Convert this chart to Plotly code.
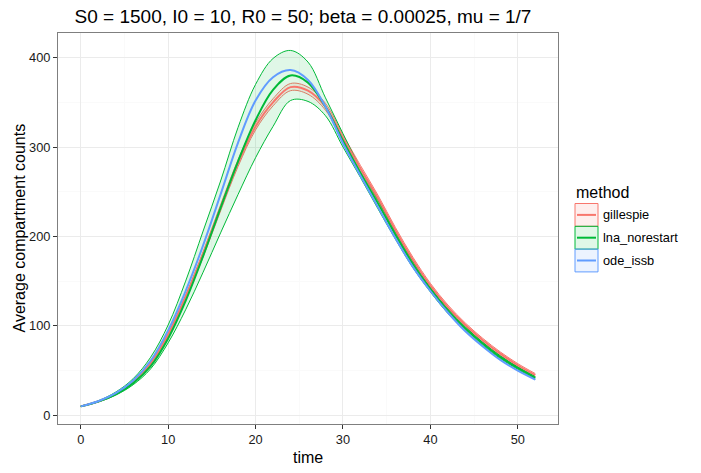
import plotly.graph_objects as go

# time grid (days) and average infected counts
time = [0, 2, 4, 6, 8, 10, 12, 14, 16, 18, 20, 22, 24, 26,
        28, 30, 32, 34, 36, 38, 40, 42, 44, 46, 48, 50, 52]

gillespie_mean = [10, 15.5, 24, 37.5, 58, 90, 132, 180, 232, 282, 323, 350, 367, 363,
                  345, 310, 276, 243, 207, 174, 145, 121, 101, 84, 69, 56, 45]
gillespie_lo = [9.7, 15.0, 23.2, 36.4, 56.5, 88, 129.5, 177, 228.6, 278.3, 319.1, 346, 363, 359,
                341.2, 306.4, 272.6, 239.8, 204, 171.2, 142.4, 118.6, 98.8, 82, 67.1, 54.2, 43.3]
gillespie_hi = [10.3, 16.0, 24.8, 38.6, 59.5, 92, 134.5, 183, 235.4, 285.7, 326.9, 354, 371, 367,
                348.8, 313.6, 279.4, 246.2, 210, 176.8, 147.6, 123.4, 103.2, 86, 70.9, 57.8, 46.7]

lna_mean = [10, 15.3, 23.5, 36, 55, 86, 128, 178, 232, 284, 330, 364, 380, 372,
            345, 307, 271, 237, 202, 169, 141, 117, 97, 80, 65, 53, 42]
lna_lo = [9.7, 14.9, 22.6, 34.2, 52, 81, 118, 160, 204, 247, 288, 323, 352, 351,
          335, 300, 266, 231, 197, 165, 138, 114, 94.5, 78, 63.5, 51.5, 40.5]
lna_hi = [10.3, 16.3, 26, 41, 65, 101, 150, 206, 262, 322, 370, 399, 408, 395,
          355, 315, 276, 241, 205, 172, 143, 119, 99, 81.5, 66.5, 54, 43.5]

ode_issb = [10, 15.7, 24.8, 39, 61, 95, 139, 190, 247, 305, 352, 378, 386, 375,
            345, 304, 268, 233, 198, 166, 139, 115, 94, 77, 62, 50, 40]

methods = ['gillespie', 'lna_norestart', 'ode_issb']
colors = {'gillespie': '#F8766D', 'lna_norestart': '#00BA38', 'ode_issb': '#619CFF'}
fills = {'gillespie': 'rgba(248,118,109,0.12)', 'lna_norestart': 'rgba(0,186,56,0.12)',
         'ode_issb': 'rgba(97,156,255,0.12)'}

FONT = 'Liberation Sans, Arial, sans-serif'
W, H = 701, 473
L, R, T, B = 58, 143, 33, 49

fig = go.Figure()

# ribbons
for m, lo, hi in [('gillespie', gillespie_lo, gillespie_hi), ('lna_norestart', lna_lo, lna_hi)]:
    fig.add_trace(go.Scatter(x=time, y=hi, mode='lines', line=dict(color=colors[m], width=1, shape='spline'),
                             showlegend=False, hoverinfo='skip'))
    fig.add_trace(go.Scatter(x=time, y=lo, mode='lines', line=dict(color=colors[m], width=1, shape='spline'),
                             fill='tonexty', fillcolor=fills[m], showlegend=False, hoverinfo='skip'))

# mean lines
for m, ys in [('gillespie', gillespie_mean), ('lna_norestart', lna_mean), ('ode_issb', ode_issb)]:
    fig.add_trace(go.Scatter(x=time, y=ys, mode='lines', name=m,
                             line=dict(color=colors[m], width=2, shape='spline'), showlegend=False))


def px_x(px):
    return (px - L) / (W - L - R)


def px_y(py):
    return (H - B - py) / (H - T - B)


# ggplot-like legend drawn by hand
shapes = []
annotations = []
annotations.append(dict(text='method', x=px_x(574), y=px_y(192), xref='paper', yref='paper',
                        xanchor='left', yanchor='middle', showarrow=False,
                        font=dict(size=16, color='black', family=FONT)))
key_top = 203.5
key_h = 22.8
for i, m in enumerate(methods):
    y0 = key_top + i * key_h
    y1 = y0 + key_h
    shapes.append(dict(type='rect', xref='paper', yref='paper', x0=px_x(575), x1=px_x(598),
                       y0=px_y(y1), y1=px_y(y0), line=dict(color=colors[m], width=1), fillcolor=fills[m]))
    ym = (y0 + y1) / 2
    shapes.append(dict(type='line', xref='paper', yref='paper', x0=px_x(577), x1=px_x(596),
                       y0=px_y(ym), y1=px_y(ym), line=dict(color=colors[m], width=2)))
    annotations.append(dict(text=m, x=px_x(601), y=px_y(ym), xref='paper', yref='paper',
                            xanchor='left', yanchor='middle', showarrow=False,
                            font=dict(size=12.8, color='black', family=FONT)))

# axis titles
annotations.append(dict(text='time', x=0.5, y=px_y(457), xref='paper', yref='paper',
                        xanchor='center', yanchor='middle', showarrow=False,
                        font=dict(size=16, color='black', family=FONT)))
annotations.append(dict(text='Average compartment counts', x=px_x(19), y=0.5, xref='paper', yref='paper',
                        xanchor='center', yanchor='middle', showarrow=False, textangle=-90,
                        font=dict(size=16, color='black', family=FONT)))

axis_common = dict(showline=True, linecolor='#7F7F7F', linewidth=1, mirror=True,
                   ticks='outside', ticklen=4, tickcolor='#333333', tickwidth=1,
                   gridcolor='#EBEBEB', gridwidth=1, zeroline=False,
                   tickfont=dict(size=12.8, color='#1a1a1a', family=FONT))

fig.update_layout(
    width=W, height=H,
    margin=dict(l=L, r=R, t=T, b=B),
    paper_bgcolor='white', plot_bgcolor='white',
    title=dict(text='S0 = 1500, I0 = 10, R0 = 50; beta = 0.00025, mu = 1/7',
               x=0.49, xref='paper', xanchor='center', y=1 - 16 / H, yref='container', yanchor='middle',
               font=dict(size=19, color='black', family=FONT)),
    xaxis=dict(range=[-2.6, 54.6], tickvals=[0, 10, 20, 30, 40, 50],
               minor=dict(showgrid=True, gridcolor='#FAFAFA', tickvals=[5, 15, 25, 35, 45], ticklen=0),
               **axis_common),
    yaxis=dict(range=[-9.7, 427.5], tickvals=[0, 100, 200, 300, 400],
               minor=dict(showgrid=True, gridcolor='#FAFAFA', tickvals=[50, 150, 250, 350], ticklen=0),
               **axis_common),
    shapes=shapes,
    annotations=annotations,
    showlegend=False,
)

# drop the browser's default body margin so the figure sits at the window corner
fig.write_html("out.html", config={'displayModeBar': False},
               post_script="document.body.style.margin='0';")
